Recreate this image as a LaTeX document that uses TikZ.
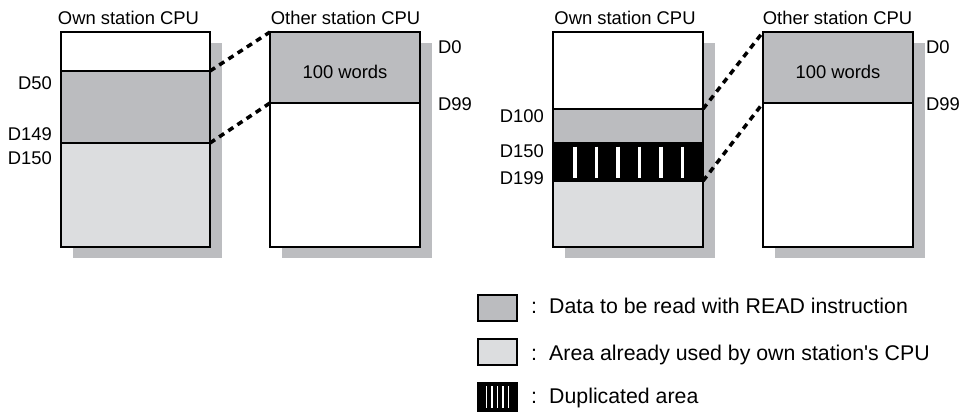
\documentclass[tikz,border=0pt]{standalone}
\usepackage{fontspec}
\setmainfont{Liberation Sans}[Ligatures=TeXOff]
\definecolor{dk}{HTML}{BBBCBF}
\definecolor{lt}{HTML}{DCDDDF}
\definecolor{sh}{HTML}{BCBDC0}
\begin{document}
\begin{tikzpicture}[x=1pt,y=-1pt,
  reg/.style={draw=black, line width=2.8pt, inner sep=0pt, outer sep=0pt, anchor=north west, minimum width=150pt},
  conn/.style={line width=3.5pt, dash pattern=on 6pt off 5pt},
  lbl/.style={font=\fontsize{18.4}{22}\selectfont, inner sep=0pt},
  leg/.style={font=\fontsize{21.3}{25}\selectfont, inner sep=0pt, anchor=base west},
  legbox/.style={draw=black, line width=2.2pt, inner sep=0pt, outer sep=0pt, anchor=north west, minimum width=39pt},
  stripe/.style={draw=white, line width=1.5pt}]
\useasboundingbox (0,0) rectangle (966,412);

% ---------- left pair ----------
\fill[sh] (73,43) rectangle (222,258);
\node[reg, fill=white, minimum width=149pt, minimum height=39pt] (o1top) at (61,32) {};
\node[reg, fill=dk, minimum width=149pt, minimum height=72pt] (o1read) at (61,71) {};
\node[reg, fill=lt, minimum width=149pt, minimum height=104pt] (o1used) at (61,143) {};

\fill[sh] (282,43) rectangle (432,258);
\node[reg, fill=dk, minimum height=71pt] (t1read) at (270,32) {};
\node[reg, fill=white, minimum height=144pt] (t1rest) at (270,103) {};

\node[lbl, anchor=base] (h1) at (128.5,25) {Own station CPU};
\node[lbl, anchor=base] (h2) at (345.5,25) {Other station CPU};
\node[lbl, anchor=base] (w1) at (345,78) {100 words};
\node[lbl, anchor=base west] (d0a) at (438,53) {D0};
\node[lbl, anchor=base west] (d99a) at (438,110) {D99};
\node[lbl, anchor=base east] (d50) at (52,89) {D50};
\node[lbl, anchor=base east] (d149) at (52,140) {D149};
\node[lbl, anchor=base east] (d150a) at (52,164) {D150};

\draw[conn] (o1read.north east) -- (t1read.north west);
\draw[conn] (o1read.south east) -- (t1read.south west);

% ---------- right pair ----------
\fill[sh] (565,43) rectangle (715,258);
\node[reg, fill=white, minimum height=77pt] (o2top) at (553,32) {};
\node[reg, fill=dk, minimum height=34pt] (o2read) at (553,109) {};
\node[reg, fill=black, minimum height=38pt] (o2dup) at (553,143) {};
\node[reg, fill=lt, minimum height=66pt] (o2used) at (553,181) {};
\foreach \sx in {575,596.5,618,639.5,661,682.5}
  \draw[draw=white, line width=3.5pt] (\sx,146.5) -- (\sx,177.5);

\fill[sh] (775,43) rectangle (925,258);
\node[reg, fill=dk, minimum height=71pt] (t2read) at (763,32) {};
\node[reg, fill=white, minimum height=144pt] (t2rest) at (763,103) {};

\node[lbl, anchor=base] (h3) at (625,25) {Own station CPU};
\node[lbl, anchor=base] (h4) at (837.5,25) {Other station CPU};
\node[lbl, anchor=base] (w2) at (838,78) {100 words};
\node[lbl, anchor=base west] (d0b) at (926,53) {D0};
\node[lbl, anchor=base west] (d99b) at (926,110) {D99};
\node[lbl, anchor=base east] (d100) at (544,122) {D100};
\node[lbl, anchor=base east] (d150b) at (544,157) {D150};
\node[lbl, anchor=base east] (d199) at (544,184) {D199};

\draw[conn] (o2read.north east) -- (t2read.north west);
\draw[conn] (o2dup.south east) -- (t2read.south west);

% ---------- legend ----------
\node[legbox, fill=dk, minimum height=26pt] (lg1) at (478,295) {};
\node[legbox, fill=lt, minimum height=26pt] (lg2) at (478,339) {};
\node[legbox, fill=black, minimum height=28pt] (lg3) at (478,383) {};
\foreach \sx in {486.5,492,497.5,503,508.5}
  \draw[stripe] (\sx,386) -- (\sx,408);

\node[leg] (c1) at (531,313) {:};
\node[leg] (c2) at (531,360) {:};
\node[leg] (c3) at (531,403) {:};
\node[leg] (l1) at (549,313) {Data to be read with READ instruction};
\node[leg] (l2) at (549,360) {Area already used by own station's CPU};
\node[leg] (l3) at (549,403) {Duplicated area};
\end{tikzpicture}
\end{document}
